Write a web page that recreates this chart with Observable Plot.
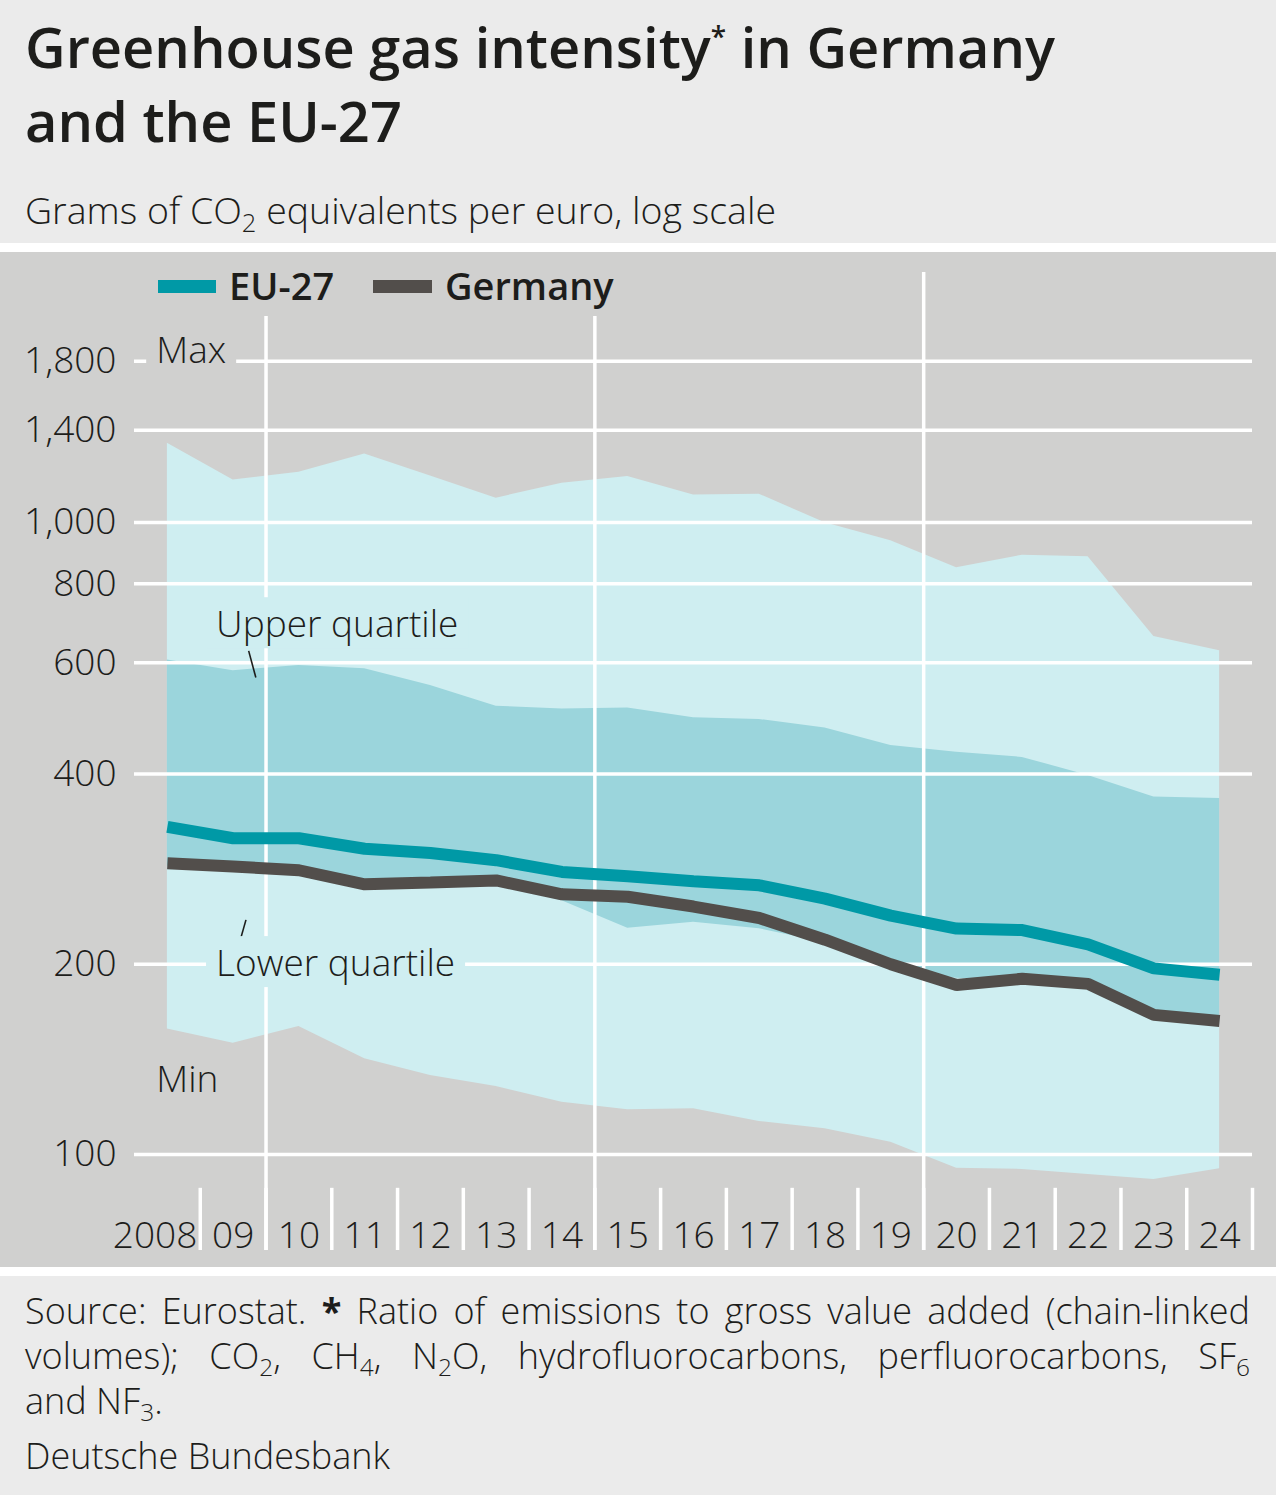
<!DOCTYPE html>
<html>
<head>
<meta charset="utf-8">
<script src="https://cdn.jsdelivr.net/npm/d3@7"></script>
<script src="https://cdn.jsdelivr.net/npm/@observablehq/plot@0.6"></script>
<style>
html,body{margin:0;padding:0;}
body{width:1276px;height:1495px;background:#ebebeb;font-family:"Open Sans",sans-serif;color:#1d1d1b;overflow:hidden;}
#header{height:243px;position:relative;}
#title{position:absolute;left:25px;top:9px;margin:0;font-size:56px;font-weight:600;line-height:74px;white-space:nowrap;}
#title sup{font-size:0.5em;vertical-align:0.75em;line-height:0;}
#subtitle{position:absolute;left:25px;top:190px;font-size:37.5px;font-weight:300;line-height:40px;white-space:nowrap;}
sub{font-size:0.68em;vertical-align:-0.3em;line-height:0;}
#panel{position:relative;height:1015px;background:#d0d0cf;border-top:9px solid #fff;border-bottom:9px solid #fff;}
#panel svg{position:absolute;left:0;top:0;}
#legendbg{position:absolute;left:145px;top:0;width:470px;height:64px;background:#d0d0cf;}
.sw{position:absolute;top:28px;height:13px;}
.lt{position:absolute;top:13px;font-size:38px;font-weight:600;line-height:40px;white-space:nowrap;}
#footer{padding:12px 26px 0 25px;font-size:36px;font-weight:300;line-height:45px;}
#footer .j{text-align:justify;text-align-last:justify;white-space:nowrap;}
#footer .src{margin-top:10px;}
</style>
</head>
<body>
<div id="header">
  <h1 id="title">Greenhouse gas intensity<sup>*</sup> in Germany<br>and the EU-27</h1>
  <div id="subtitle">Grams of CO<sub>2</sub> equivalents per euro, log scale</div>
</div>
<div id="panel">
</div>
<div id="footer">
  <div class="j">Source: Eurostat. <b style="font-weight:700">*</b> Ratio of emissions to gross value added (chain-linked</div>
  <div class="j">volumes); CO<sub>2</sub>, CH<sub>4</sub>, N<sub>2</sub>O, hydrofluorocarbons, perfluorocarbons, SF<sub>6</sub></div>
  <div>and NF<sub>3</sub>.</div>
  <div class="src">Deutsche Bundesbank</div>
</div>
<script>
// ---- data ----
const years = [2008,2009,2010,2011,2012,2013,2014,2015,2016,2017,2018,2019,2020,2021,2022,2023,2024];
const xTickLabels = ["2008","09","10","11","12","13","14","15","16","17","18","19","20","21","22","23","24"];
const maxVals = [1335,1168,1201,1284,1185,1093,1154,1183,1106,1109,999,936,848,888,883,660,627];
const upperQuartile = [606,583,594,587,552,512,507,509,491,488,473,444,433,425,398,368,366];
const lowerQuartile = [286,282.5,278.6,264.8,266.5,268.5,252,228,233,227.6,216.5,198,190,188,185,165,161];
const minVals = [158,150,159.4,141.7,133.4,128.1,121,117.7,118.1,112.8,109.8,104.6,95.1,94.7,93,91.3,94.9];
const eu27 = [330,316.5,316.5,304.6,300,292.2,280,275.5,270.7,266.7,254,238.8,227.8,226.5,215,197,192.5];
const germany = [289,285.6,281.7,267.6,269.4,271.4,258,255.8,246.8,236.7,218.7,200,185.4,189.7,186.2,166.3,162.6];
const yTicks = [100,200,400,600,800,1000,1400,1800];
const majorGrid = [2009.5,2014.5,2019.5];
const yearSeparators = [2008.5,2009.5,2010.5,2011.5,2012.5,2013.5,2014.5,2015.5,2016.5,2017.5,2018.5,2019.5,2020.5,2021.5,2022.5,2023.5,2024.5];
const separatorTop = 88.4;
const yDomain = [70.48, 2487];
const labelsGray = [{text:"Max", year:2007.83, value:1870}];
const labelsCyan = [
  {text:"Upper quartile", year:2008.74, value:687.5},
  {text:"Lower quartile", year:2008.74, value:200}
];
const labelsPlain = [{text:"Min", year:2007.83, value:131}];
const leaders = [
  {x1:2009.236, y1:626.6, x2:2009.345, y2:568.6},
  {x1:2009.195, y1:235.1, x2:2009.113, y2:219.4}
];

const C = {light:"#cfeef1", iqr:"#9bd5dc", eu:"#0099a6", de:"#524e4b", bg:"#d0d0cf", text:"#1d1d1b"};

const data = years.map((year,i)=>({year, max:maxVals[i], uq:upperQuartile[i], lq:lowerQuartile[i], min:minVals[i], eu:eu27[i], de:germany[i]}));

const textOpts = {fontSize:37, fontWeight:300, fill:C.text};

const chart = Plot.plot({
  width:1276, height:1015,
  marginTop:20, marginBottom:17, marginLeft:134, marginRight:24,
  x:{type:"linear", domain:[2007.5,2024.5], axis:null},
  y:{type:"log", domain:yDomain, axis:null},
  style:{fontFamily:'"Open Sans", sans-serif', fontSize:"37px", background:"transparent", overflow:"visible"},
  marks:[
    Plot.areaY(data, {x:"year", y1:"min", y2:"max", fill:C.light}),
    Plot.areaY(data, {x:"year", y1:"lq", y2:"uq", fill:C.iqr}),
    Plot.ruleY(yTicks, {y:d=>d, stroke:"#fff", strokeWidth:3.5}),
    Plot.ruleX(majorGrid, {x:d=>d, stroke:"#fff", strokeWidth:3.5}),
    Plot.ruleX(yearSeparators, {x:d=>d, y1:separatorTop, y2:yDomain[0], stroke:"#fff", strokeWidth:3.5}),
    Plot.line(data, {x:"year", y:"eu", stroke:C.eu, strokeWidth:12, strokeLinejoin:"miter", strokeLinecap:"butt"}),
    Plot.line(data, {x:"year", y:"de", stroke:C.de, strokeWidth:12, strokeLinejoin:"miter", strokeLinecap:"butt"}),
    Plot.link(leaders, {x1:"x1", y1:"y1", x2:"x2", y2:"y2", stroke:C.text, strokeWidth:1.6}),
    Plot.text(labelsGray, {x:"year", y:"value", text:"text", textAnchor:"start", ...textOpts}),
    Plot.text(labelsCyan, {x:"year", y:"value", text:"text", textAnchor:"start", ...textOpts}),
    Plot.text(labelsPlain, {x:"year", y:"value", text:"text", textAnchor:"start", ...textOpts}),
    Plot.text(yTicks, {y:d=>d, text:d=>d3.format(",")(d), frameAnchor:"left", textAnchor:"end", dx:-18, ...textOpts}),
    Plot.text(years.slice(1), {x:d=>d, text:(d,i)=>xTickLabels[i+1], frameAnchor:"bottom", dy:-3, ...textOpts}),
    Plot.text([years[0]], {x:d=>d+0.5, text:()=>xTickLabels[0], frameAnchor:"bottom", textAnchor:"end", dx:-3, dy:-3, ...textOpts})
  ]
});

const panel = document.getElementById("panel");
panel.appendChild(chart);

// background boxes behind annotation labels (cut the gridlines like the original)
const svgBox = chart.getBoundingClientRect();
const bgFor = {};
labelsGray.forEach(d=>bgFor[d.text]=C.bg);
labelsCyan.forEach(d=>bgFor[d.text]=C.light);
chart.querySelectorAll("text").forEach(t=>{
  const txt = t.textContent;
  if (!(txt in bgFor)) return;
  const r = t.getBoundingClientRect();
  const rect = document.createElementNS("http://www.w3.org/2000/svg","rect");
  rect.setAttribute("x", r.left - svgBox.left - 10);
  rect.setAttribute("y", r.top - svgBox.top);
  rect.setAttribute("width", r.width + 20);
  rect.setAttribute("height", r.height);
  rect.setAttribute("fill", bgFor[txt]);
  const g = t.parentNode;
  g.parentNode.insertBefore(rect, g);
});

// legend
const legendItems = [
  {label:"EU-27", color:C.eu, swLeft:158, swWidth:58, textLeft:229},
  {label:"Germany", color:C.de, swLeft:373, swWidth:59, textLeft:445}
];
const lbg = document.createElement("div");
lbg.id = "legendbg";
panel.appendChild(lbg);
legendItems.forEach(it=>{
  const sw = document.createElement("div");
  sw.className = "sw";
  sw.style.left = it.swLeft + "px";
  sw.style.width = it.swWidth + "px";
  sw.style.background = it.color;
  panel.appendChild(sw);
  const lt = document.createElement("div");
  lt.className = "lt";
  lt.style.left = it.textLeft + "px";
  lt.textContent = it.label;
  panel.appendChild(lt);
});
</script>
</body>
</html>
